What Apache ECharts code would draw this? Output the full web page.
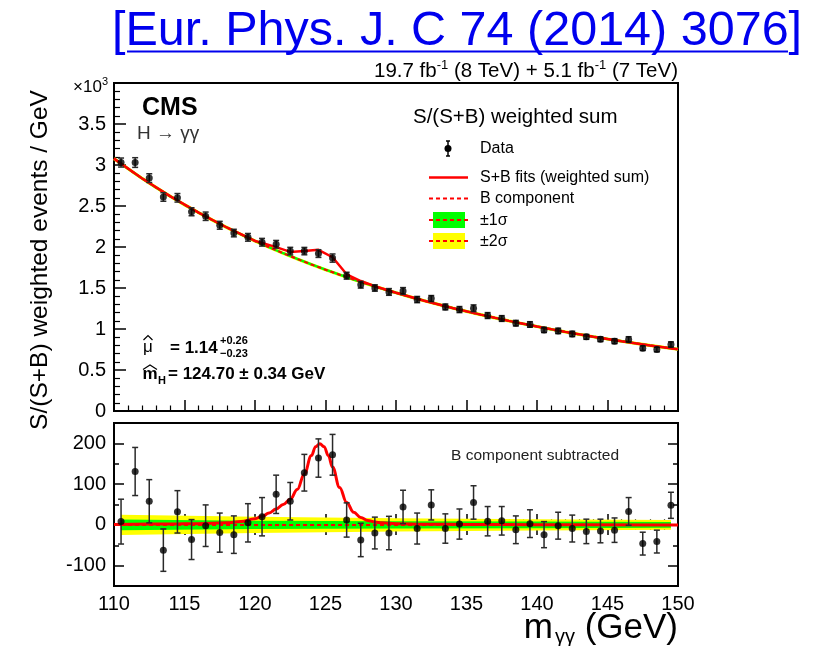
<!DOCTYPE html>
<html>
<head>
<meta charset="utf-8">
<script src="https://cdn.jsdelivr.net/npm/echarts@6/dist/echarts.min.js"></script>
<style>
  html, body { margin: 0; padding: 0; background: #fff; }
  #chart { width: 821px; height: 646px; }
</style>
</head>
<body>
<div id="chart"></div>
<script>
// Diphoton invariant-mass spectrum, S/(S+B) weighted, with background-subtracted panel.

// Bin centres (GeV)
const massBins = [110.5, 111.5, 112.5, 113.5, 114.5, 115.5, 116.5, 117.5, 118.5, 119.5,
                  120.5, 121.5, 122.5, 123.5, 124.5, 125.5, 126.5, 127.5, 128.5, 129.5,
                  130.5, 131.5, 132.5, 133.5, 134.5, 135.5, 136.5, 137.5, 138.5, 139.5,
                  140.5, 141.5, 142.5, 143.5, 144.5, 145.5, 146.5, 147.5, 148.5, 149.5];

// Weighted events / GeV
const dataWeighted = [3030, 3030, 2840, 2610, 2600, 2430, 2375, 2265, 2170, 2118,
                      2058, 2033, 1950, 1950, 1920, 1865, 1650, 1540, 1500, 1452,
                      1464, 1359, 1371, 1269, 1237, 1253, 1164, 1128, 1071, 1055,
                      989, 977, 940, 904, 876, 852, 872, 766, 750, 811];

// Statistical uncertainty on each bin
const dataErr = [55, 59, 53, 52, 52, 49, 51, 48, 46, 47,
                 47, 47, 46, 45, 47, 50, 42, 41, 39, 41,
                 41, 38, 37, 36, 37, 41, 36, 35, 34, 34,
                 32, 33, 33, 30, 29, 30, 34, 28, 28, 32];

// Data minus background component
const dataSubtracted = [8, 131, 58, -62, 32, -36, -2, -19, -24, 5,
                        20, 75, 58, 128, 164, 172, 12, -37, -20, -20,
                        44, -9, 49, -9, 2, 55, 9, 10, -12, 3,
                        -24, -2, -9, -16, -15, -13, 33, -46, -41, 48];

// Background component of the fit
const bkgMass = [110, 111, 112, 113, 114, 115, 116, 117, 118, 119,
                 120, 121, 122, 123, 124, 125, 126, 127, 128, 129,
                 130, 131, 132, 133, 134, 135, 136, 137, 138, 139,
                 140, 141, 142, 143, 144, 145, 146, 147, 148, 149, 150];
const bkgFit = [3078, 2954, 2836, 2724, 2617, 2515, 2419, 2326, 2238, 2154,
                2074, 1997, 1924, 1854, 1787, 1723, 1662, 1603, 1547, 1493,
                1442, 1392, 1345, 1300, 1256, 1215, 1175, 1136, 1099, 1064,
                1030, 997, 965, 935, 906, 878, 851, 825, 800, 776, 753];

// Signal + background fit (weighted sum)
const sbMass = [110, 112, 114, 116, 118, 120, 120.5, 121.5, 122.5, 123.5, 124.5, 125.5,
                126.5, 127.5, 128.5, 130, 132, 134, 136, 138, 140, 142, 144, 146, 148, 150];
const sbFit = [3078, 2836, 2617, 2419, 2238, 2074, 2050, 1998, 1940, 1950, 1965, 1875,
               1667, 1585, 1522, 1442, 1345, 1256, 1175, 1099, 1030, 965, 906, 851, 800, 753];

// Signal component (fit minus background)
const sigMass = [110, 114, 116, 118, 119, 120, 120.5, 121, 121.5, 122, 122.5, 123, 123.5,
                 124, 124.3, 124.6, 124.9, 125.2, 125.5, 126, 126.5, 127, 127.5, 128,
                 128.5, 129, 130, 132, 135, 140, 150];
const sigFit = [1, 2, 3, 5, 8, 15, 21, 29, 39, 50, 63, 87, 125,
                170, 192, 199, 192, 170, 142, 92, 55, 31, 18, 11,
                7, 5, 3, 1.5, 1, 0.5, 0];

// Background uncertainty bands (half widths)
const bandMass = [110.5, 120, 130, 140, 149.5];
const band1Sigma = [13, 10, 9, 8, 7];
const band2Sigma = [25, 20, 16, 14, 12];

// Tick labels
const xTicks = [110, 115, 120, 125, 130, 135, 140, 145, 150];
const subTicks = [-100, 0, 100, 200];

const FONT = '"Liberation Sans", Arial, Helvetica, sans-serif';
const RED = '#ff0000';

const pairs = (xs, ys) => xs.map((x, i) => [x, ys[i]]);

function errorBars(params, api) {
  const m = api.value(0), v = api.value(1), e = api.value(2);
  const hi = api.coord([m, v + e]);
  const lo = api.coord([m, v - e]);
  const st = () => ({ stroke: '#2a2a2a', lineWidth: 1.5 });
  return {
    type: 'group',
    children: [
      { type: 'line', shape: { x1: hi[0], y1: hi[1], x2: lo[0], y2: lo[1] }, style: st() },
      { type: 'line', shape: { x1: hi[0] - 3, y1: hi[1], x2: hi[0] + 3, y2: hi[1] }, style: st() },
      { type: 'line', shape: { x1: lo[0] - 3, y1: lo[1], x2: lo[0] + 3, y2: lo[1] }, style: st() }
    ]
  };
}

function bandRenderer(widths, color) {
  return function (params, api) {
    const upper = bandMass.map((m, i) => api.coord([m, widths[i]]));
    const lower = bandMass.map((m, i) => api.coord([m, -widths[i]])).reverse();
    return { type: 'polygon', shape: { points: upper.concat(lower) }, style: { fill: color } };
  };
}

const tickStyle = { color: '#000', width: 1.5 };

function massAxis(gridIndex, position, showLabels, tickLen) {
  return {
    type: 'value', gridIndex, position, min: 110, max: 150, interval: 5,
    axisLine: { show: false },
    axisTick: { show: true, inside: true, length: tickLen, lineStyle: tickStyle },
    minorTick: { show: true, splitNumber: 5, length: tickLen / 2, lineStyle: { color: '#000', width: 1.2 } },
    splitLine: { show: false },
    axisLabel: {
      show: showLabels, color: '#000', fontSize: 20, fontFamily: FONT, margin: 8,
      customValues: xTicks
    }
  };
}

function subAxis(position, major) {
  return {
    type: 'value', gridIndex: 1, position, min: -150, max: 250, interval: 50,
    axisLine: { show: false },
    splitLine: { show: false },
    axisTick: major
      ? { show: true, inside: true, length: 10, lineStyle: tickStyle, customValues: subTicks }
      : { show: true, inside: true, length: 5, lineStyle: tickStyle },
    axisLabel: (major && position === 'left')
      ? { show: true, color: '#000', fontSize: 20, fontFamily: FONT, margin: 8,
          customValues: subTicks,
          formatter: v => (v % 100 === 0 ? String(v) : '') }
      : { show: false }
  };
}

function label(x, y, text, font, align, extra) {
  return Object.assign({
    type: 'text', x, y, z: 10,
    style: { text, font: font + ' ' + FONT, fill: '#000',
             align, verticalAlign: 'middle', textAlign: align, textVerticalAlign: 'middle' }
  }, extra || {});
}

const chart = echarts.init(document.getElementById('chart'), null, { renderer: 'canvas' });

const option = {
  animation: false,
  backgroundColor: '#fff',
  grid: [
    { left: 114, top: 83, width: 564, height: 328, show: true, borderColor: '#000', borderWidth: 2, backgroundColor: 'transparent' },
    { left: 114, top: 423, width: 564, height: 163, show: true, borderColor: '#000', borderWidth: 2, backgroundColor: 'transparent' }
  ],
  xAxis: [
    massAxis(0, 'bottom', false, 11),
    massAxis(1, 'bottom', true, 11),
    massAxis(1, 'top', false, 10)
  ],
  yAxis: [
    {
      type: 'value', gridIndex: 0, position: 'left', min: 0, max: 4000, interval: 500,
      axisLine: { show: false },
      splitLine: { show: false },
      axisTick: { show: true, inside: true, length: 12, lineStyle: tickStyle },
      minorTick: { show: true, splitNumber: 5, length: 6, lineStyle: { color: '#000', width: 1.2 } },
      axisLabel: {
        color: '#000', fontSize: 20, fontFamily: FONT, margin: 8,
        formatter: v => (v >= 4000 ? '' : String(v / 1000))
      }
    },
    subAxis('left', true),
    subAxis('left', false),
    subAxis('right', true),
    subAxis('right', false)
  ],
  series: [
    // ---- upper panel ----
    { type: 'line', xAxisIndex: 0, yAxisIndex: 0, data: pairs(bkgMass, bkgFit), showSymbol: false, silent: true, z: 2,
      lineStyle: { color: '#ffff00', width: 3.2 } },
    { type: 'line', xAxisIndex: 0, yAxisIndex: 0, data: pairs(bkgMass, bkgFit), showSymbol: false, silent: true, z: 2,
      lineStyle: { color: '#00ff00', width: 2.4 } },
    { type: 'line', xAxisIndex: 0, yAxisIndex: 0, data: pairs(bkgMass, bkgFit), showSymbol: false, silent: true, z: 2,
      lineStyle: { color: RED, width: 2, type: [4, 3] } },
    { type: 'line', xAxisIndex: 0, yAxisIndex: 0, data: pairs(sbMass, sbFit), showSymbol: false, silent: true, z: 3,
      lineStyle: { color: RED, width: 2.5 } },
    { type: 'custom', xAxisIndex: 0, yAxisIndex: 0, renderItem: errorBars, silent: true, z: 4,
      data: massBins.map((m, i) => [m, dataWeighted[i], dataErr[i]]), encode: { x: 0, y: 1 } },
    { type: 'scatter', xAxisIndex: 0, yAxisIndex: 0, data: pairs(massBins, dataWeighted), symbol: 'circle', symbolSize: 7, silent: true, z: 5,
      itemStyle: { color: '#000' } },

    // ---- lower panel ----
    { type: 'custom', xAxisIndex: 1, yAxisIndex: 1, renderItem: bandRenderer(band2Sigma, '#ffff00'), data: [[130, 0]], silent: true, z: 1 },
    { type: 'custom', xAxisIndex: 1, yAxisIndex: 1, renderItem: bandRenderer(band1Sigma, '#00ff00'), data: [[130, 0]], silent: true, z: 1 },
    { type: 'line', xAxisIndex: 1, yAxisIndex: 1, data: [[bandMass[0], 0], [bandMass[bandMass.length - 1], 0]], showSymbol: false, silent: true, z: 2,
      lineStyle: { color: RED, width: 2, type: [4, 3] } },
    { type: 'line', xAxisIndex: 1, yAxisIndex: 1, data: pairs(sigMass, sigFit), showSymbol: false, silent: true, z: 3,
      smooth: 0.4, smoothMonotone: 'x', lineStyle: { color: RED, width: 3 } },
    { type: 'custom', xAxisIndex: 1, yAxisIndex: 1, renderItem: errorBars, silent: true, z: 4,
      data: massBins.map((m, i) => [m, dataSubtracted[i], dataErr[i]]), encode: { x: 0, y: 1 } },
    { type: 'scatter', xAxisIndex: 1, yAxisIndex: 1, data: pairs(massBins, dataSubtracted), symbol: 'circle', symbolSize: 7, silent: true, z: 5,
      itemStyle: { color: '#000' } }
  ],
  graphic: [
    // Journal reference
    { type: 'text', x: 457, y: 32, z: 10,
      style: { text: '[Eur. Phys. J. C 74 (2014) 3076]', font: '48.5px ' + FONT, fill: '#0000ee',
               align: 'center', verticalAlign: 'middle', textAlign: 'center', textVerticalAlign: 'middle' } },
    { type: 'rect', z: 10, shape: { x: 127, y: 50.5, width: 661, height: 2 }, style: { fill: '#0000ee' } },
    // Luminosity
    { type: 'text', x: 678, y: 70, z: 10,
      style: {
        text: '{a|19.7 fb}{s|-1}{a| (8 TeV) + 5.1 fb}{s|-1}{a| (7 TeV)}',
        align: 'right', verticalAlign: 'middle', textAlign: 'right', textVerticalAlign: 'middle',
        rich: {
          a: { fontSize: 20.5, fontFamily: FONT, fill: '#000', lineHeight: 23, verticalAlign: 'bottom' },
          s: { fontSize: 13, fontFamily: FONT, fill: '#000', lineHeight: 13, verticalAlign: 'top' }
        }
      } },
    // Axis multiplier
    { type: 'text', x: 108, y: 86, z: 10,
      style: {
        text: '{a|×10}{s|3}',
        align: 'right', verticalAlign: 'middle', textAlign: 'right', textVerticalAlign: 'middle',
        rich: {
          a: { fontSize: 17, fontFamily: FONT, fill: '#000', lineHeight: 20, verticalAlign: 'bottom' },
          s: { fontSize: 11, fontFamily: FONT, fill: '#000', lineHeight: 11, verticalAlign: 'top' }
        }
      } },
    // Y axis title
    label(40, 260, 'S/(S+B) weighted events / GeV', '24.5px', 'center', { rotation: Math.PI / 2 }),
    // X axis title: m with γγ subscript, then the unit
    label(678, 628, '(GeV)', '35px', 'right'),
    label(553, 628, 'm', '35px', 'right'),
    label(555, 637, 'γγ', '20px', 'left'),
    // Experiment label
    label(142, 108, 'CMS', 'bold 25px', 'left'),
    { type: 'text', x: 137, y: 133.5, z: 10,
      style: { text: 'H → γγ', font: '19px ' + FONT, fill: '#333',
               align: 'left', verticalAlign: 'middle', textAlign: 'left', textVerticalAlign: 'middle' } },

    // Legend
    label(413, 117, 'S/(S+B) weighted sum', '20.5px', 'left'),
    { type: 'line', z: 10, shape: { x1: 448, y1: 141, x2: 448, y2: 156 }, style: { stroke: '#000', lineWidth: 1.5 } },
    { type: 'line', z: 10, shape: { x1: 446, y1: 141, x2: 450, y2: 141 }, style: { stroke: '#000', lineWidth: 1.5 } },
    { type: 'line', z: 10, shape: { x1: 446, y1: 156, x2: 450, y2: 156 }, style: { stroke: '#000', lineWidth: 1.5 } },
    { type: 'circle', z: 10, shape: { cx: 448, cy: 148.5, r: 3.5 }, style: { fill: '#000' } },
    label(480, 148.5, 'Data', '16px', 'left'),
    { type: 'line', z: 10, shape: { x1: 429, y1: 177.5, x2: 468, y2: 177.5 }, style: { stroke: RED, lineWidth: 2.5 } },
    label(480, 177.5, 'S+B fits (weighted sum)', '16px', 'left'),
    { type: 'line', z: 10, shape: { x1: 429, y1: 198.5, x2: 468, y2: 198.5 }, style: { stroke: RED, lineWidth: 2, lineDash: [4, 3] } },
    label(480, 198.5, 'B component', '16px', 'left'),
    { type: 'rect', z: 10, shape: { x: 433, y: 212, width: 32, height: 16 }, style: { fill: '#00ff00' } },
    { type: 'line', z: 11, shape: { x1: 429, y1: 220, x2: 468, y2: 220 }, style: { stroke: RED, lineWidth: 2, lineDash: [4, 3] } },
    label(480, 220.5, '±1σ', '16px', 'left'),
    { type: 'rect', z: 10, shape: { x: 433, y: 233, width: 32, height: 16 }, style: { fill: '#ffff00' } },
    { type: 'line', z: 11, shape: { x1: 429, y1: 241, x2: 468, y2: 241 }, style: { stroke: RED, lineWidth: 2, lineDash: [4, 3] } },
    label(480, 241.5, '±2σ', '16px', 'left'),

    // Fit results
    { type: 'polyline', z: 10, shape: { points: [[143.5, 340], [148, 335.5], [152.5, 340]] }, style: { stroke: '#000', lineWidth: 1.2, fill: null } },
    label(143, 347, 'μ', '17px', 'left'),
    label(170, 348, '= 1.14', 'bold 17px', 'left'),
    label(220, 340.5, '+0.26', 'bold 11px', 'left'),
    label(220, 353.5, '−0.23', 'bold 11px', 'left'),
    { type: 'polyline', z: 10, shape: { points: [[143, 369.5], [150, 365], [157, 369.5]] }, style: { stroke: '#000', lineWidth: 1.2, fill: null } },
    label(142.5, 374.5, 'm', 'bold 17px', 'left'),
    label(158, 381, 'H', 'bold 11px', 'left'),
    label(168, 374.5, '= 124.70 ± 0.34 GeV', 'bold 17px', 'left'),

    // Lower panel label
    { type: 'text', x: 535, y: 456, z: 10,
      style: { text: 'B component subtracted', font: '15.5px ' + FONT, fill: '#222',
               align: 'center', verticalAlign: 'middle', textAlign: 'center', textVerticalAlign: 'middle' } }
  ]
};

chart.setOption(option);
</script>
</body>
</html>
